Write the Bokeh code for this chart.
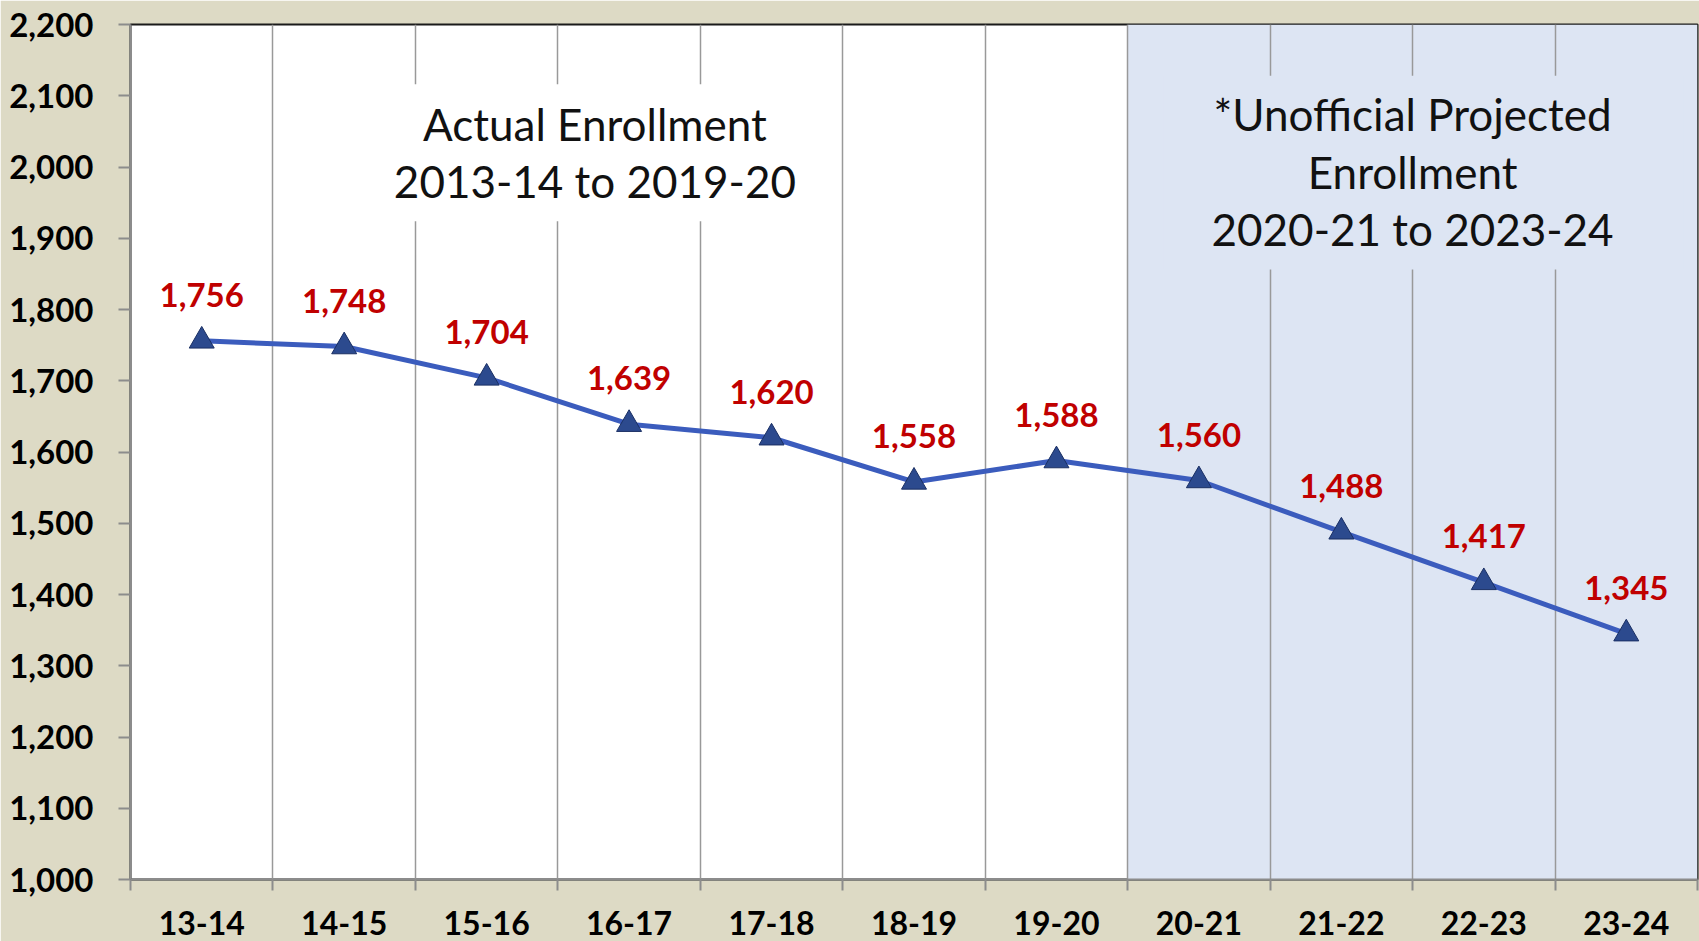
from bokeh.plotting import figure
from bokeh.models import ColumnDataSource, FixedTicker, NumeralTickFormatter, LabelSet, Range1d
from bokeh.embed import file_html
from bokeh.resources import INLINE
from bokeh.core.properties import value

# ---- data ----
CATEGORIES = ["13-14", "14-15", "15-16", "16-17", "17-18", "18-19",
              "19-20", "20-21", "21-22", "22-23", "23-24"]
ENROLLMENT = [1756, 1748, 1704, 1639, 1620, 1558, 1588, 1560, 1488, 1417, 1345]
N_ACTUAL = 7  # 13-14 .. 19-20 are actual, the rest projected
Y_TICKS = list(range(1000, 2201, 100))
ACTUAL_NOTE = ["Actual Enrollment", "2013-14 to 2019-20"]
PROJ_NOTE = ["*Unofficial Projected", "Enrollment", "2020-21 to 2023-24"]

FONT = "Lato"
BG = "#DDDAC5"
PROJ_FILL = "#DDE5F3"

n = len(CATEGORIES)
xc = [i + 0.5 for i in range(n)]
src = ColumnDataSource(dict(x=xc, y=ENROLLMENT,
                            label=[f"{v:,}" for v in ENROLLMENT]))

p = figure(width=1699, height=941,
           x_range=Range1d(0, n), y_range=Range1d(Y_TICKS[0], Y_TICKS[-1]),
           output_backend="svg", toolbar_location=None,
           min_border_left=130, min_border_right=2,
           min_border_top=24, min_border_bottom=62)

p.background_fill_color = "white"
p.border_fill_color = BG
p.outline_line_color = "#1a1a1a"
p.outline_line_width = 2

# projected shading (under the grid)
p.quad(left=[N_ACTUAL], right=[n], bottom=[Y_TICKS[0]], top=[Y_TICKS[-1]],
       fill_color=PROJ_FILL, line_color=None, level="image")

# grid: vertical lines at category boundaries
p.xgrid.ticker = FixedTicker(ticks=list(range(1, n)))
p.xgrid.grid_line_color = "#999999"
p.xgrid.grid_line_width = 1.5
p.ygrid.grid_line_color = None

# note boxes that hide the grid behind the annotations
p.quad(left=[1.75], right=[4.8], bottom=[1924], top=[2116],
       fill_color="white", line_color=None)
p.quad(left=[7.25], right=[10.9], bottom=[1856], top=[2128],
       fill_color=PROJ_FILL, line_color=None)

p.text(x=[3.26, 3.26], y=[2060, 1980], text=ACTUAL_NOTE,
       text_font=value(FONT), text_font_size="44px", text_align="center",
       text_baseline="alphabetic", text_color="#111111")
p.text(x=[9.0, 9.0, 9.0], y=[2074, 1993, 1913], text=PROJ_NOTE,
       text_font=value(FONT), text_font_size="44px", text_align="center",
       text_baseline="alphabetic", text_color="#111111")

# series
p.line("x", "y", source=src, line_color="#3B5CBD", line_width=5)
p.scatter("x", "y", source=src, marker="triangle", size=25,
          fill_color="#2C4A8E", line_color="#1A2F63", line_width=1)

p.add_layout(LabelSet(x="x", y="y", text="label", source=src,
                      text_align="center", text_baseline="alphabetic",
                      y_offset=34, text_font=value(FONT),
                      text_font_style="bold", text_font_size="33px",
                      text_color="#C00000"))

# y axis
ya = p.yaxis[0]
ya.ticker = FixedTicker(ticks=Y_TICKS, minor_ticks=[])
ya.formatter = NumeralTickFormatter(format="0,0")
ya.major_label_text_font = FONT
ya.major_label_text_font_style = "bold"
ya.major_label_text_font_size = "33px"
ya.major_label_text_color = "black"
ya.major_label_standoff = 25
ya.major_tick_out = 12
ya.major_tick_in = 0
ya.minor_tick_out = 0
ya.minor_tick_in = 0
ya.major_tick_line_color = "#8c8c8c"
ya.major_tick_line_width = 2
ya.axis_line_color = "#8c8c8c"
ya.axis_line_width = 2

# x axis: labels at category centres, tick marks at category boundaries
xa = p.xaxis[0]
xa.ticker = FixedTicker(ticks=xc, minor_ticks=list(range(0, n + 1)))
xa.major_label_overrides = {c: lab for c, lab in zip(xc, CATEGORIES)}
xa.major_label_text_font = FONT
xa.major_label_text_font_style = "bold"
xa.major_label_text_font_size = "32px"
xa.major_label_text_color = "black"
xa.major_label_standoff = 20
xa.major_tick_out = 0
xa.major_tick_in = 0
xa.minor_tick_out = 11
xa.minor_tick_in = 0
xa.minor_tick_line_color = "#8c8c8c"
xa.minor_tick_line_width = 2
xa.axis_line_color = "#8c8c8c"
xa.axis_line_width = 2

open("out.html", "w").write(file_html(p, INLINE))
